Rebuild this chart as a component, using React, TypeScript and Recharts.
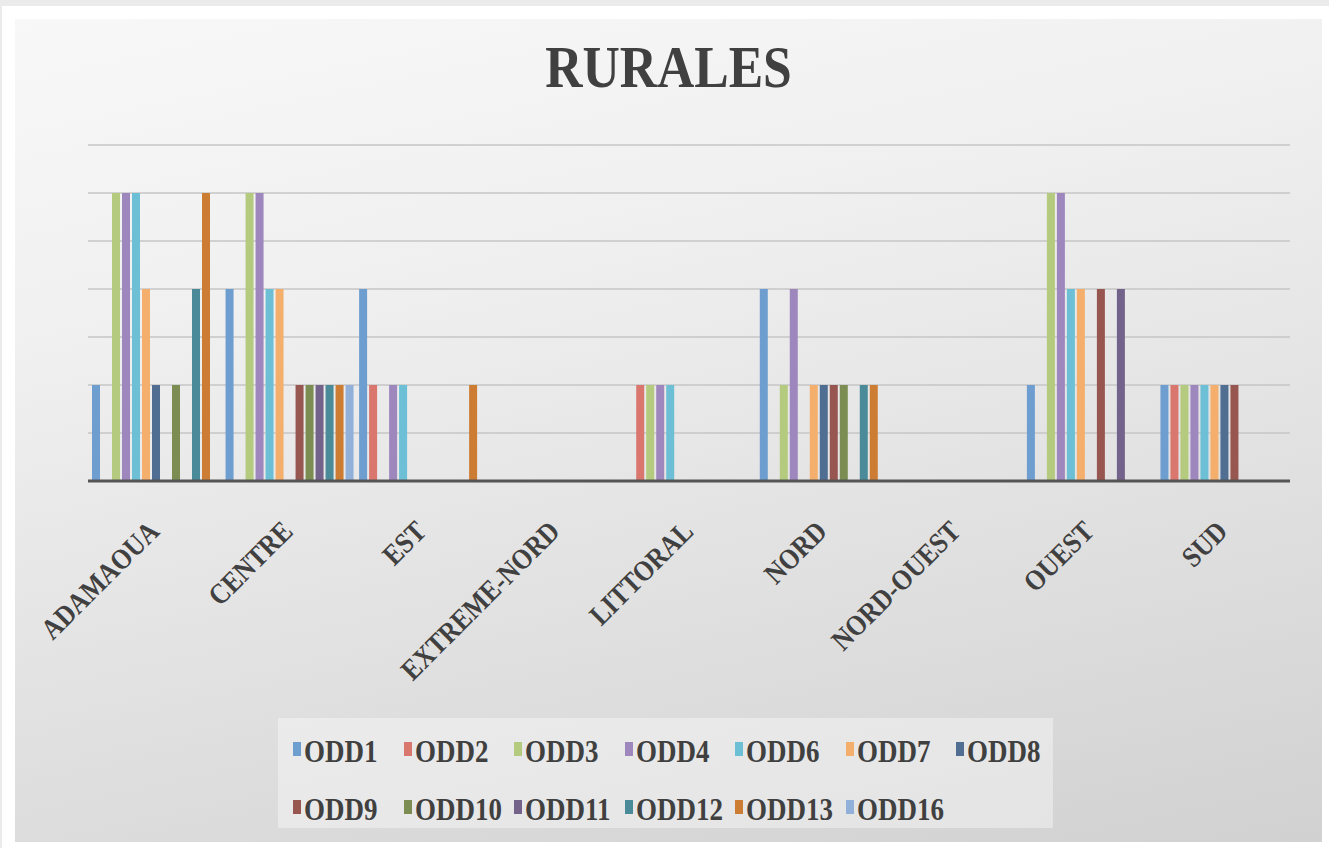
import React from 'react';
import { BarChart, Bar, XAxis, YAxis, CartesianGrid, Legend } from 'recharts';

const regions = ['ADAMAOUA', 'CENTRE', 'EST', 'EXTREME-NORD', 'LITTORAL', 'NORD', 'NORD-OUEST', 'OUEST', 'SUD'];

const odd1 = [2, 4, 4, 0, 0, 4, 0, 2, 2];
const odd2 = [0, 0, 2, 0, 2, 0, 0, 0, 2];
const odd3 = [6, 6, 0, 0, 2, 2, 0, 6, 2];
const odd4 = [6, 6, 2, 0, 2, 4, 0, 6, 2];
const odd6 = [6, 4, 2, 0, 2, 0, 0, 4, 2];
const odd7 = [4, 4, 0, 0, 0, 2, 0, 4, 2];
const odd8 = [2, 0, 0, 0, 0, 2, 0, 0, 2];
const odd9 = [0, 2, 0, 0, 0, 2, 0, 4, 2];
const odd10 = [2, 2, 0, 0, 0, 2, 0, 0, 0];
const odd11 = [0, 2, 0, 0, 0, 0, 0, 4, 0];
const odd12 = [4, 2, 0, 0, 0, 2, 0, 0, 0];
const odd13 = [6, 2, 2, 0, 0, 2, 0, 0, 0];
const odd16 = [0, 2, 0, 0, 0, 0, 0, 0, 0];

const yTicks = [0, 1, 2, 3, 4, 5, 6, 7];

const series = [
  { key: 'ODD1', values: odd1, color: '#6e9ed0' },
  { key: 'ODD2', values: odd2, color: '#d9776f' },
  { key: 'ODD3', values: odd3, color: '#b4ca7e' },
  { key: 'ODD4', values: odd4, color: '#9e87bd' },
  { key: 'ODD6', values: odd6, color: '#6cbfd5' },
  { key: 'ODD7', values: odd7, color: '#f5af6c' },
  { key: 'ODD8', values: odd8, color: '#4f6e92' },
  { key: 'ODD9', values: odd9, color: '#985651' },
  { key: 'ODD10', values: odd10, color: '#7b8d52' },
  { key: 'ODD11', values: odd11, color: '#73628a' },
  { key: 'ODD12', values: odd12, color: '#4b8a99' },
  { key: 'ODD13', values: odd13, color: '#cc7d33' },
  { key: 'ODD16', values: odd16, color: '#92b1da' },
];
const seriesOrder = series.map(s => s.key);

const data = regions.map((name, i) => {
  const row: Record<string, string | number> = { name };
  series.forEach(s => { row[s.key] = s.values[i]; });
  return row;
});

const FONT = '"Liberation Serif", "Times New Roman", serif';

const RegionTick = (props: any) => {
  const { x, y, payload } = props;
  return (
    <g transform={`translate(${x + 6},${y + 44}) rotate(-45)`}>
      <text
        textAnchor="end"
        transform="scale(0.87,1)"
        fontFamily={FONT}
        fontWeight="bold"
        fontSize={29}
        fill="#404040"
      >
        {payload.value}
      </text>
    </g>
  );
};

const LegendBox = (props: any) => {
  const items = [...(props.payload || [])].sort(
    (a: any, b: any) => seriesOrder.indexOf(a.value) - seriesOrder.indexOf(b.value)
  );
  return (
    <div
      style={{
        width: 775,
        height: 110,
        background: 'rgba(255,255,255,0.38)',
        boxSizing: 'border-box',
        padding: '20px 0 0 15px',
        display: 'grid',
        gridTemplateColumns: 'repeat(7, 110.5px)',
        gridAutoRows: '58px',
      }}
    >
      {items.map((it: any) => (
        <div key={it.value} style={{ display: 'flex', alignItems: 'flex-start', height: 30 }}>
          <span style={{ width: 8, height: 14, background: it.color, marginTop: 4, flex: 'none' }} />
          <span
            style={{
              marginLeft: 3,
              fontFamily: FONT,
              fontWeight: 'bold',
              fontSize: 31,
              lineHeight: '28px',
              color: '#404040',
              display: 'inline-block',
              transform: 'scaleX(0.87)',
              transformOrigin: 'left center',
              whiteSpace: 'nowrap',
            }}
          >
            {it.value}
          </span>
        </div>
      ))}
    </div>
  );
};

export default function App() {
  return (
    <div style={{ position: 'absolute', left: 0, top: 0, width: 1329, height: 848, background: '#ffffff', overflow: 'hidden' }}>
      <div style={{ position: 'absolute', left: 0, top: 0, width: 1329, height: 6, background: '#ebebeb' }} />
      <div style={{ position: 'absolute', left: 0, top: 0, width: 2, height: 848, background: '#ebebeb' }} />
      <div
        style={{
          position: 'absolute',
          left: 15,
          top: 19,
          width: 1307,
          height: 823,
          background: 'linear-gradient(168deg, #f8f8f8 0%, #f0f0f0 30%, #e3e3e3 60%, #d1d1d1 100%)',
        }}
      >
        <div
          style={{
            position: 'absolute',
            left: 0,
            top: 18,
            width: 1307,
            textAlign: 'center',
            fontFamily: FONT,
            fontWeight: 'bold',
            fontSize: 60,
            lineHeight: '60px',
            color: '#404040',
            transform: 'scaleX(0.86)',
          }}
        >
          RURALES
        </div>
        <BarChart
          width={1307}
          height={823}
          data={data}
          margin={{ top: 126, right: 32, left: 73, bottom: 0 }}
          barCategoryGap={4}
          barGap={2}
        >
          <CartesianGrid vertical={false} stroke="#c6c6c6" strokeWidth={1.5} />
          <YAxis hide domain={[0, 7]} ticks={yTicks} />
          <XAxis
            dataKey="name"
            height={361}
            axisLine={{ stroke: '#555555', strokeWidth: 3 }}
            tickLine={false}
            interval={0}
            tick={<RegionTick />}
          />
          <Legend
            layout="horizontal"
            verticalAlign="middle"
            align="center"
            content={<LegendBox />}
            wrapperStyle={{ left: 263, top: 699, width: 775, height: 110 }}
          />
          {series.map(s => (
            <Bar key={s.key} dataKey={s.key} name={s.key} fill={s.color} isAnimationActive={false} />
          ))}
        </BarChart>
      </div>
    </div>
  );
}
